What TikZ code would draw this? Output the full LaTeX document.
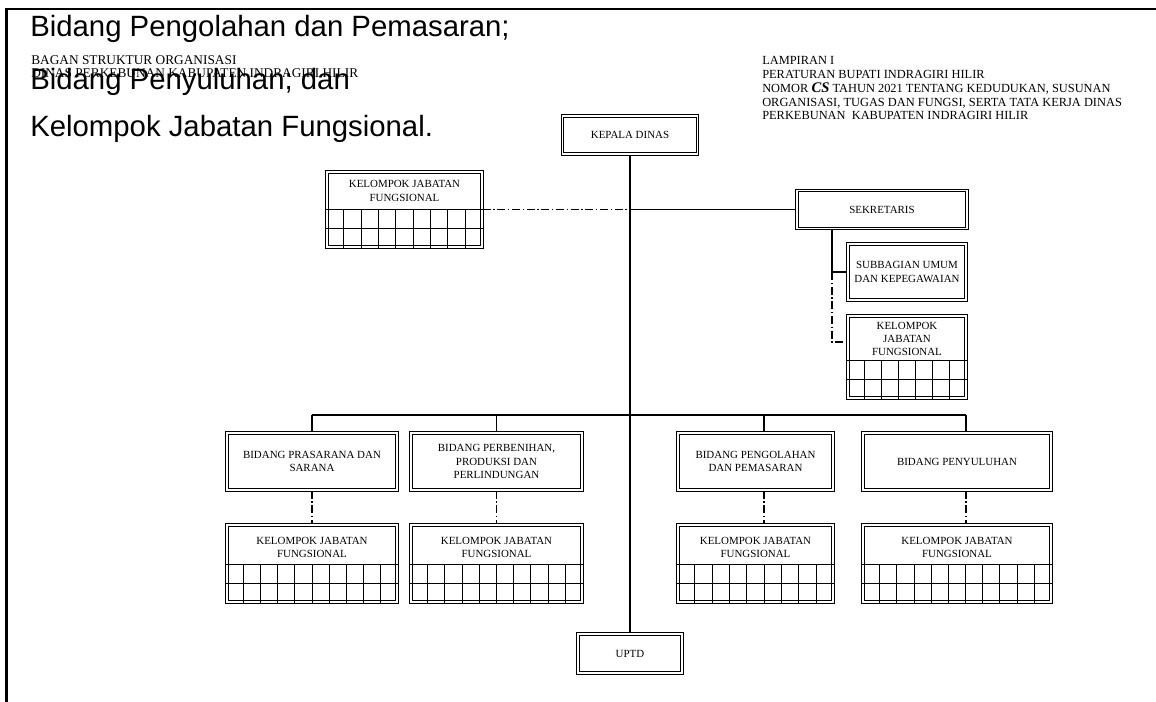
\documentclass[tikz,border=0pt]{standalone}
\usepackage{fontspec}
\setmainfont{Liberation Serif}
\newfontfamily\notefont{Liberation Sans}
\usetikzlibrary{calc,positioning}

% grid rows under a "kelompok jabatan fungsional" box
\newcommand{\kjfgrid}[2]{%
  \draw[gridline] ($(#1.south west)+(0,28.5pt)$) -- ($(#1.south east)+(0,28.5pt)$);
  \draw[gridline] ($(#1.south west)+(0,14.25pt)$) -- ($(#1.south east)+(0,14.25pt)$);
  \pgfmathtruncatemacro{\kjflast}{#2-1}
  \foreach \i in {1,...,\kjflast}
    \draw[gridline] ($(#1.south west)!\i/#2!(#1.south east)$) -- ++(0,28.5pt);
}

\begin{document}
\begin{tikzpicture}[x=0.75pt, y=-0.75pt,
    font=\fontsize{8.2}{10}\selectfont,
    unit/.style={draw, double, line width=0.85pt, double distance=0.8pt,
                 align=center, inner sep=2pt},
    bidang/.style={unit, minimum height=42.75pt},
    kjfbox/.style={unit, minimum height=57.75pt},
    kjftext/.style={align=center, inner sep=1pt},
    gridline/.style={line width=0.75pt},
    link/.style={line width=0.8pt},
    dotlink/.style={link, dash pattern=on 6pt off 2pt on 1pt off 2pt},
    hdr/.style={inner sep=0pt, align=left},
    note/.style={anchor=base west, inner sep=0pt,
                 font=\notefont\fontsize{22}{26}\selectfont}
  ]
  \useasboundingbox (0,0) rectangle (1156,702);
  \draw[line width=1.6pt] (6.5,702) -- (6.5,9) -- (1156,9);

  % page headers
  \node[hdr, anchor=base west, font=\fontsize{10}{13}\selectfont] (judul) at (31,65)
    {BAGAN STRUKTUR ORGANISASI};
  \node[hdr, anchor=base west, font=\fontsize{10}{13}\selectfont] (dinas) at (31,78)
    {DINAS PERKEBUNAN KABUPATEN INDRAGIRI HILIR};
  \node[hdr, anchor=north west, font=\fontsize{9.3}{10.4}\selectfont] (lampiran) at (762,56)
    {LAMPIRAN I\\
     PERATURAN BUPATI INDRAGIRI HILIR\\
     NOMOR {\fontsize{11}{10}\selectfont\bfseries\itshape CS} TAHUN 2021 TENTANG KEDUDUKAN, SUSUNAN\\
     ORGANISASI, TUGAS DAN FUNGSI, SERTA TATA KERJA DINAS\\
     PERKEBUNAN\ \ KABUPATEN INDRAGIRI HILIR};

  % top of the chart
  \node[unit, minimum width=101.25pt, minimum height=28.5pt] (kepala) at (630,135) {KEPALA DINAS};
  \node[unit, minimum width=116.25pt, minimum height=56.25pt] (kjfA) at (404.5,209.5) {};
  \node[kjftext] (kjfAt) at (404.5,191) {KELOMPOK JABATAN\\FUNGSIONAL};
  \node[unit, minimum width=127.5pt, minimum height=28.5pt] (sekr) at (882,209.5) {SEKRETARIS};
  \node[unit, minimum width=88.5pt, minimum height=42pt] (subbag) at (907,272)
    {SUBBAGIAN UMUM\\DAN KEPEGAWAIAN};
  \node[unit, minimum width=88.5pt, minimum height=61.5pt] (kjfS) at (907,357) {};
  \node[kjftext] (kjfSt) at (907,339) {KELOMPOK\\JABATAN\\FUNGSIONAL};

  % bidang row
  \node[bidang, minimum width=127.5pt] (bid1) at (312,461.5) {BIDANG PRASARANA DAN\\SARANA};
  \node[bidang, minimum width=128.25pt] (bid2) at (496.5,461.5)
    {BIDANG PERBENIHAN,\\PRODUKSI DAN\\PERLINDUNGAN};
  \node[bidang, minimum width=116.25pt] (bid3) at (755.5,461.5) {BIDANG PENGOLAHAN\\DAN PEMASARAN};
  \node[bidang, minimum width=141pt] (bid4) at (957,461.5) {BIDANG PENYULUHAN};

  \node[kjfbox, minimum width=127.5pt] (kjf1) at (312,563.5) {};
  \node[kjfbox, minimum width=128.25pt] (kjf2) at (496.5,563.5) {};
  \node[kjfbox, minimum width=116.25pt] (kjf3) at (755.5,563.5) {};
  \node[kjfbox, minimum width=141pt] (kjf4) at (957,563.5) {};
  \foreach \k in {1,2,3,4}
    \node[kjftext] (kjf\k t) at ($(kjf\k.north)+(0,-17pt)$) {KELOMPOK JABATAN\\FUNGSIONAL};

  \node[unit, minimum width=78pt, minimum height=29.25pt] (uptd) at (630,653.5) {UPTD};

  \kjfgrid{kjfA}{9}
  \kjfgrid{kjfS}{7}
  \kjfgrid{kjf1}{10}
  \kjfgrid{kjf2}{10}
  \kjfgrid{kjf3}{9}
  \kjfgrid{kjf4}{11}

  % lines
  \draw[link] (kepala.south) -- (uptd.north);
  \draw[dotlink] (kjfA.east) -- (kjfA.east -| kepala.south);
  \draw[link] (kjfA.east -| kepala.south) -- (sekr.west);

  \coordinate (sekx) at (832,228);
  \coordinate (kjfSin) at (832,342);
  \draw[link] (sekr.south -| sekx) |- (subbag.west);
  \draw[dotlink] (sekx |- subbag.west) -- (kjfSin) -- (kjfSin -| kjfS.west);

  \coordinate (busL) at (312,415);
  \coordinate (busR) at (966,415);
  \draw[link] (busL) -- (busR);
  \foreach \b/\k/\x in {bid1/kjf1/312, bid2/kjf2/496.5, bid3/kjf3/764, bid4/kjf4/966} {
    \coordinate (drop) at (\x,415);
    \draw[link] (drop) -- (drop |- \b.north);
    \draw[dotlink] (drop |- \b.south) -- (drop |- \k.north);
  }

  % pasted text on top
  \node[note] (n1) at (30,37) {Bidang Pengolahan dan Pemasaran;};
  \node[note] (n2) at (30,90) {Bidang Penyuluhan; dan};
  \node[note] (n3) at (30,137) {Kelompok Jabatan Fungsional.};
\end{tikzpicture}
\end{document}
